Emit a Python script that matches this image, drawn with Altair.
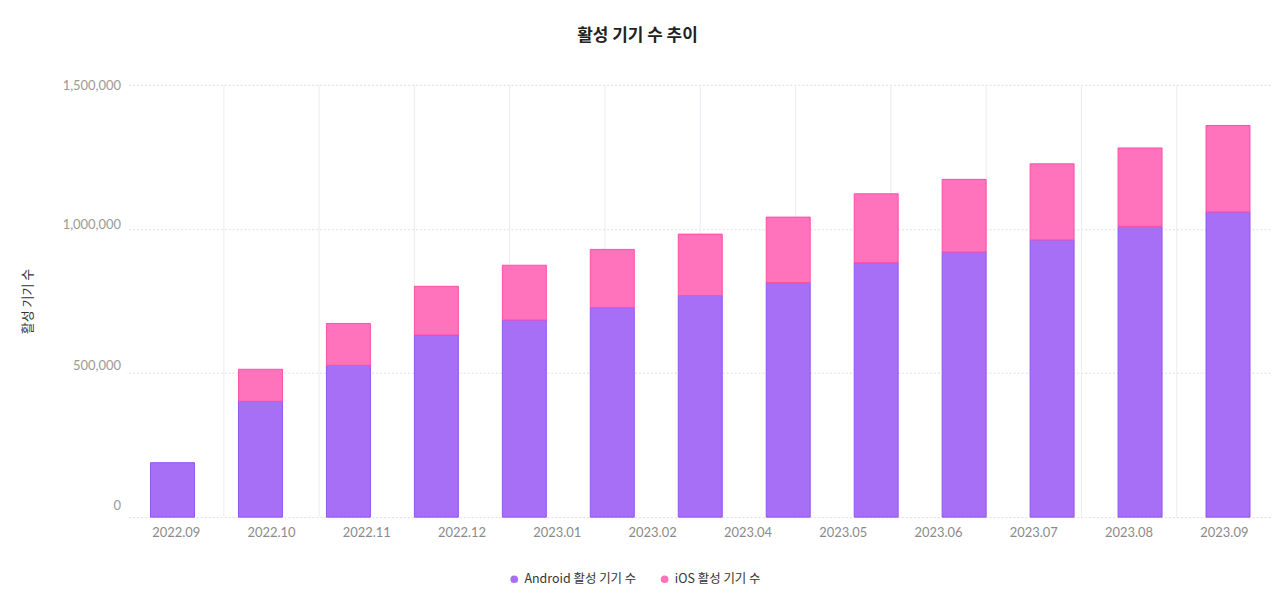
import altair as alt
import pandas as pd

months = ["2022.09", "2022.10", "2022.11", "2022.12", "2023.01", "2023.02", "2023.03",
          "2023.04", "2023.05", "2023.06", "2023.07", "2023.08", "2023.09"]
android = [189000, 402000, 527000, 632000, 684000, 727000, 769000,
           814000, 883000, 920000, 962000, 1009000, 1059000]
ios = [None, 111000, 145000, 169000, 190000, 202000, 213000,
       227000, 239000, 252000, 264000, 272000, 300000]
tick_labels = ["2022.09", "2022.10", "2022.11", "2022.12", "2023.01", "2023.02",
               "2023.04", "2023.05", "2023.06", "2023.07", "2023.08", "2023.09"]
series = ["Android 활성 기기 수", "iOS 활성 기기 수"]
fills = ["#a66ff6", "#ff73bc"]
strokes = ["#9454f0", "#ff4fa8"]

rows = []
for m, a, i in zip(months, android, ios):
    rows.append({"month": m, "series": series[0], "value": a, "ord": 0})
    if i is not None:
        rows.append({"month": m, "series": series[1], "value": i, "ord": 1})
bars_df = pd.DataFrame(rows)
grid_df = pd.DataFrame({"label": tick_labels[1:]})

FONT = "Lato, Noto Sans CJK KR"
KFONT = "Noto Sans CJK KR"

y_enc = alt.Y(
    "value:Q",
    stack="zero",
    scale=alt.Scale(domain=[0, 1500000], nice=False),
    axis=alt.Axis(
        values=[0, 500000, 1000000, 1500000],
        format=",.0f",
        title="활성 기기 수",
        titleFont=KFONT,
        titleFontSize=13,
        titleFontWeight="normal",
        titleColor="#333333",
        titlePadding=28,
        labelFont=FONT,
        labelFontSize=13,
        labelColor="#999999",
        labelPadding=8,
        labelOffset={"condition": [
            {"test": "datum.value == 0", "value": -12},
            {"test": "datum.value == 500000", "value": -8},
            {"test": "datum.value == 1000000", "value": -4},
        ], "value": 1},
        ticks=False,
        domain=False,
        grid=True,
        gridColor="#dddddd",
        gridDash=[2, 2],
        gridWidth=1,
    ),
)

grid = alt.Chart(grid_df).mark_rule(color="#ebebf3", strokeWidth=1).encode(
    x=alt.X(
        "label:N",
        bandPosition=0,
        sort=tick_labels,
        scale=alt.Scale(type="band", domain=tick_labels, paddingInner=0, paddingOuter=0),
        axis=alt.Axis(
            orient="bottom",
            title=None,
            labelAngle=0,
            labelFont=FONT,
            labelFontSize=13,
            labelColor="#8a8a8a",
            labelPadding=9,
            ticks=False,
            domain=False,
            grid=False,
        ),
    ),
)

bars = alt.Chart(bars_df).mark_bar(strokeWidth=1).encode(
    x=alt.X(
        "month:N",
        sort=months,
        scale=alt.Scale(domain=months, paddingInner=0.5, paddingOuter=0.25, align=0.5),
        axis=None,
    ),
    y=y_enc,
    color=alt.Color(
        "series:N",
        scale=alt.Scale(domain=series, range=fills),
        legend=alt.Legend(
            title=None,
            orient="none",
            direction="horizontal",
            legendX=381,
            legendY=490,
            symbolType="circle",
            symbolSize=60,
            symbolStrokeWidth=0,
            labelFont=KFONT,
            labelFontSize=12.5,
            labelColor="#333333",
            columnPadding=22,
            padding=0,
        ),
    ),
    stroke=alt.Stroke("series:N", scale=alt.Scale(domain=series, range=strokes), legend=None),
    order=alt.Order("ord:Q"),
)

chart = alt.layer(grid, bars).resolve_scale(x="independent").properties(
    width=1148,
    height=434,
    background="white",
    autosize=alt.AutoSizeParams(type="none"),
    padding={"left": 121, "top": 76, "right": 0, "bottom": 68},
    title=alt.TitleParams(
        "활성 기기 수 추이",
        font=KFONT,
        fontSize=17,
        fontWeight="bold",
        color="#222222",
        anchor="middle",
        dx=-63,
        offset=35,
    ),
).configure_view(strokeWidth=0, stroke="transparent")

chart.save("out.html", embed_options={"renderer": "svg", "actions": False})
